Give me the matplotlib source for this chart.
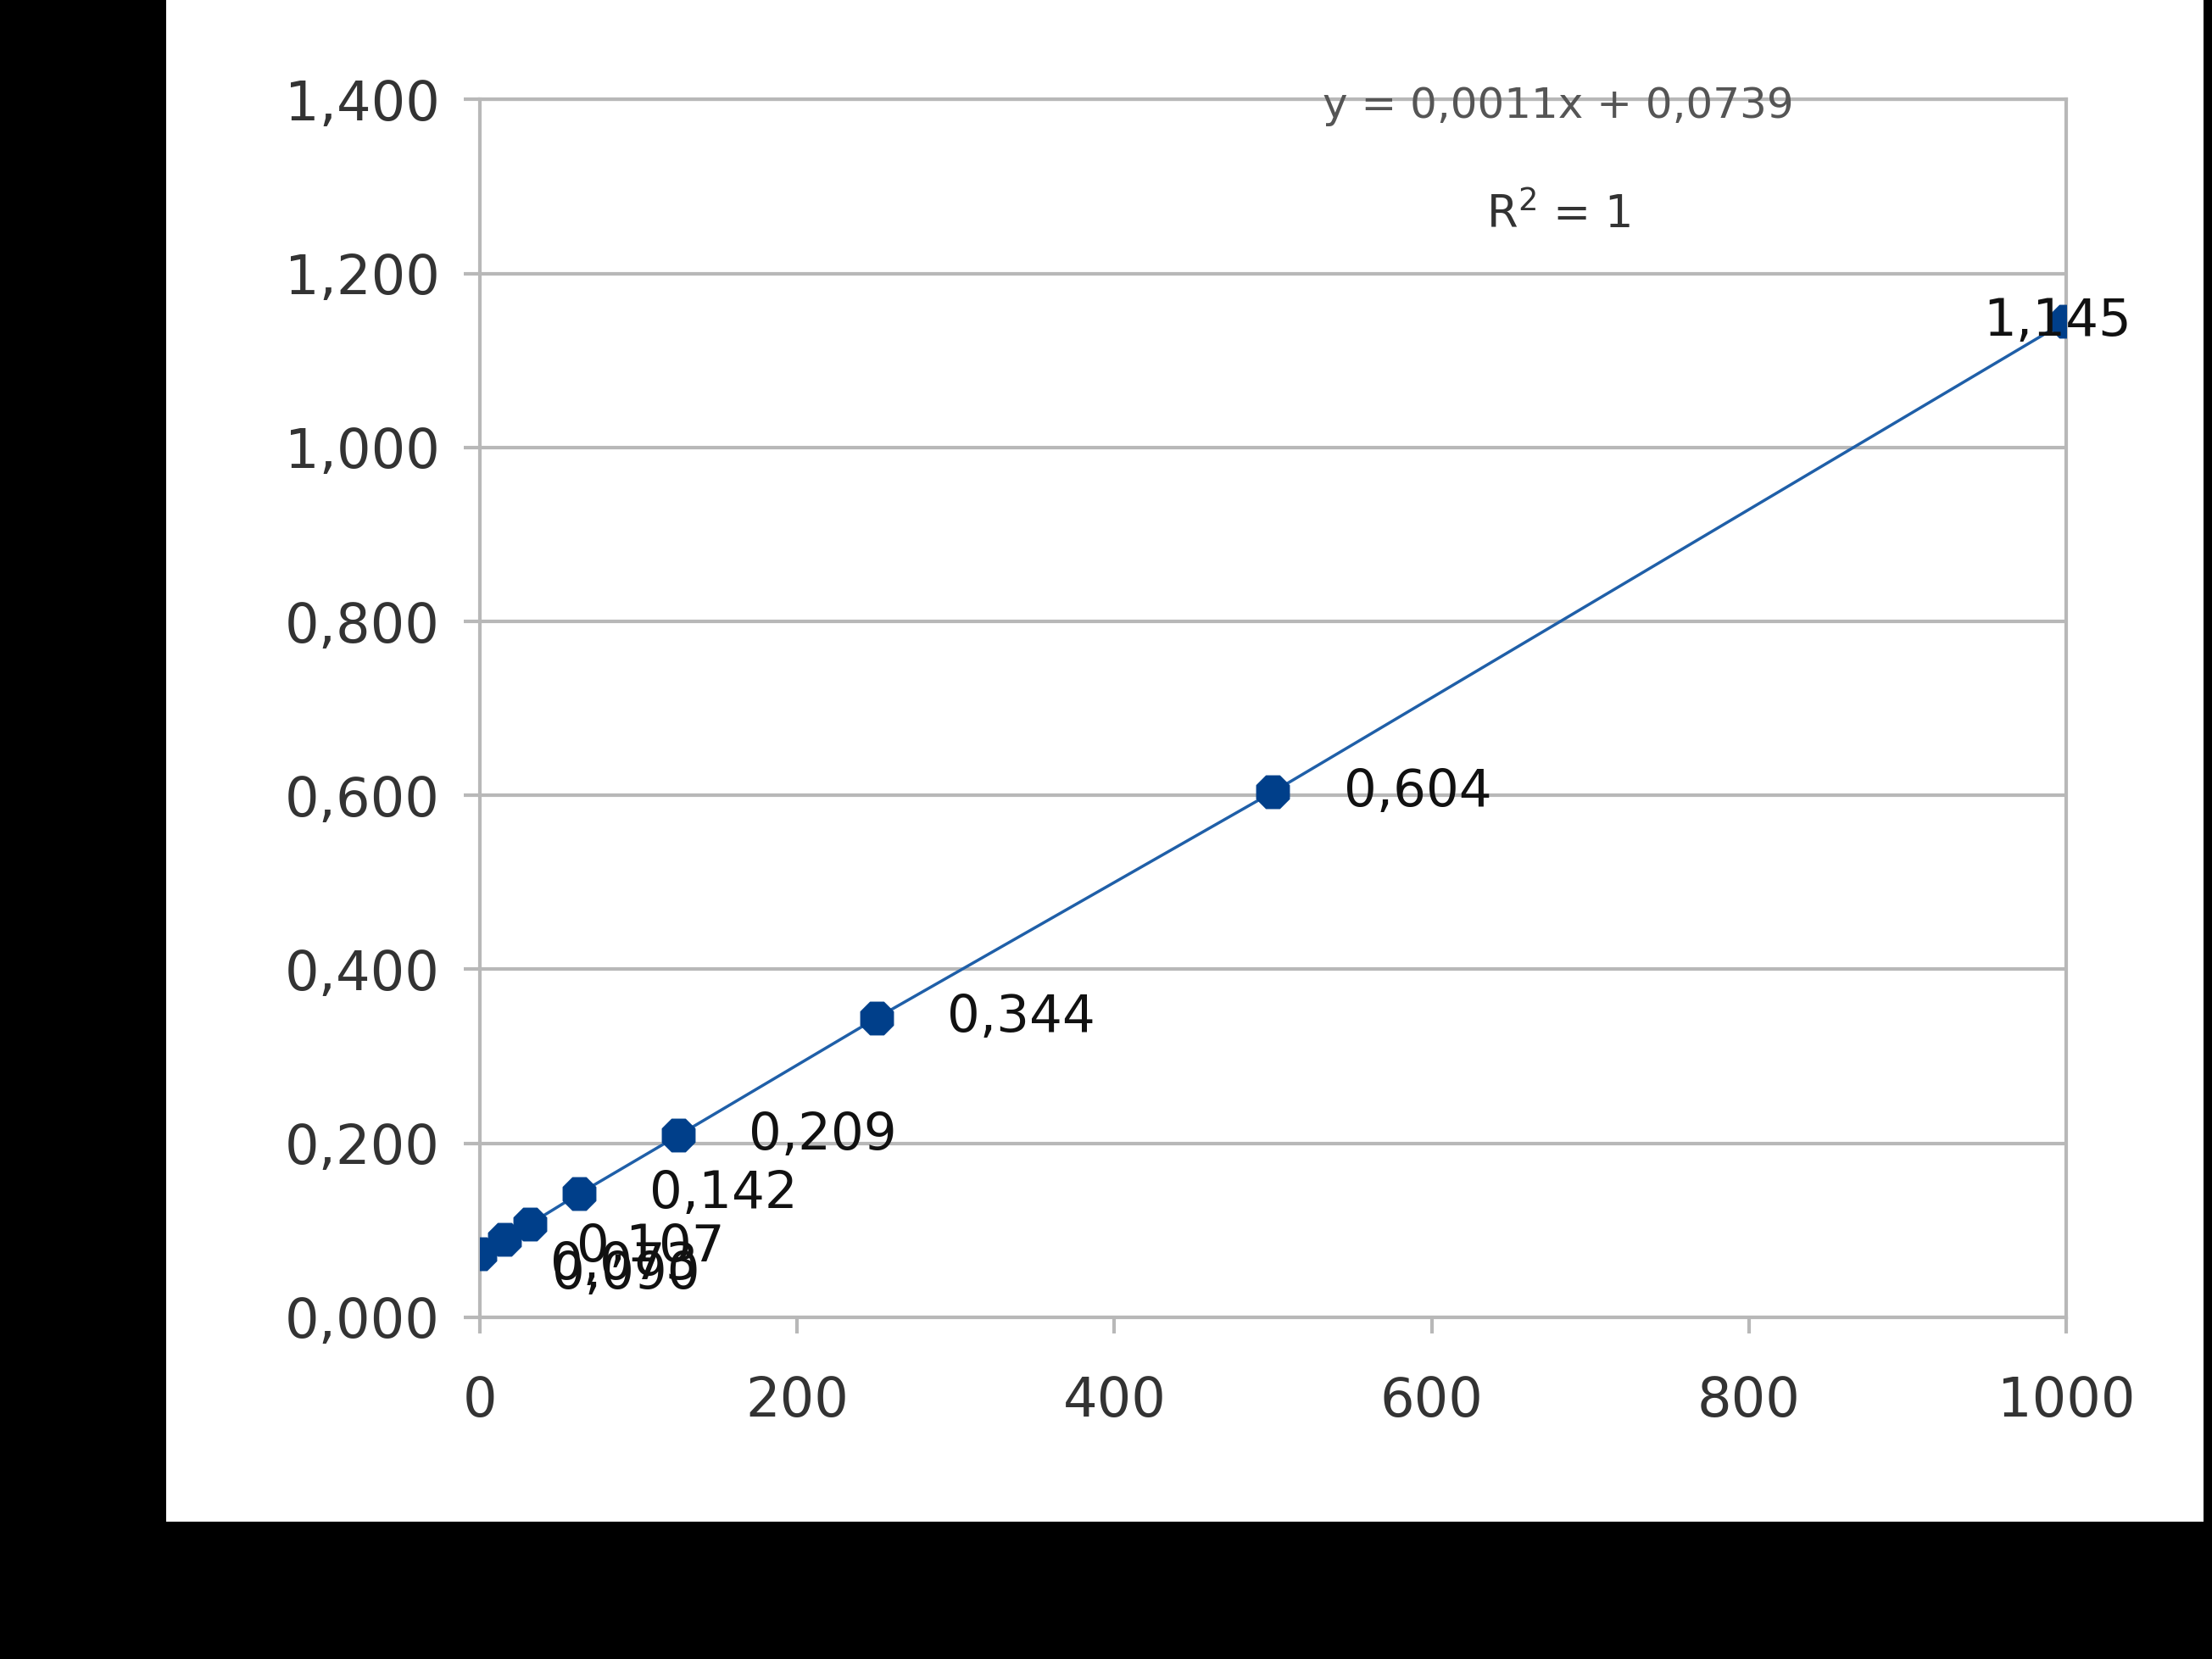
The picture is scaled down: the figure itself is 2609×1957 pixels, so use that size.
import matplotlib
matplotlib.use("Agg")
import matplotlib.pyplot as plt
from matplotlib.ticker import FuncFormatter

conc = [0, 15.6, 31.25, 62.5, 125, 250, 500, 1000]
absorb = [0.073, 0.090, 0.107, 0.142, 0.209, 0.344, 0.604, 1.145]
labels = ["0,073", "0,090", "0,107", "0,142", "0,209", "0,344", "0,604", "1,145"]
xticks = [0, 200, 400, 600, 800, 1000]
yticks = [0.0, 0.2, 0.4, 0.6, 0.8, 1.0, 1.2, 1.4]

fig = plt.figure(figsize=(26.09, 19.57), dpi=100, facecolor="black")
bg = fig.add_axes([0.075, 0.083, 0.921, 0.917], zorder=0)
bg.set_facecolor("white")
bg.set_axis_off()
bg.add_patch(plt.Rectangle((0, 0), 1, 1, transform=bg.transAxes, facecolor="white"))
ax = fig.add_axes([0.217, 0.206, 0.717, 0.734], zorder=1)
ax.set_facecolor("white")
ax.plot(conc, absorb, color="#1f5fa8", lw=2.5, zorder=2)
ax.scatter(conc, absorb, s=900, marker="8", color="#003f8a", zorder=3)
offs = {0: (60, -10), 1: (40, -30), 2: (40, -20), 3: (60, 0), 4: (60, 0), 5: (60, 0), 6: (60, 0), 7: (-70, 0)}
for i, (x, y, t) in enumerate(zip(conc, absorb, labels)):
    ox, oy = offs[i]
    ax.annotate(t, (x, y), xytext=(ox, oy), textcoords="offset points", fontsize=44,
                color="#111111", va="center", ha="left", zorder=4, annotation_clip=False)
ax.set_xlim(0, 1000)
ax.set_ylim(0, 1.4)
ax.set_xticks(xticks)
ax.set_yticks(yticks)
ax.yaxis.set_major_formatter(FuncFormatter(lambda v, p: f"{v:.3f}".replace(".", ",")))
ax.grid(axis="y", color="#b8b8b8", lw=3)
ax.set_axisbelow(True)
for s in ["top", "right", "left", "bottom"]:
    ax.spines[s].set_color("#b8b8b8")
    ax.spines[s].set_linewidth(3)
ax.tick_params(axis="both", labelsize=46, colors="#333333", length=14, width=3, color="#b8b8b8", pad=20)
ax.tick_params(axis="x", pad=35)
ax.text(0.68, 0.995, "y = 0,0011x + 0,0739", transform=ax.transAxes, fontsize=36, color="#555555",
        ha="center", va="center")
ax.text(0.68, 0.905, "R$^2$ = 1", transform=ax.transAxes, fontsize=38, color="#333333",
        ha="center", va="center")
fig.text(0.56, 0.045, "Concentration (µg/mL)", color="black", fontsize=60, ha="center", va="center")
fig.text(0.035, 0.62, "Absorbance", color="black", fontsize=60, rotation=90, ha="center", va="center")
fig.savefig("out.png", dpi=100, facecolor="black")
